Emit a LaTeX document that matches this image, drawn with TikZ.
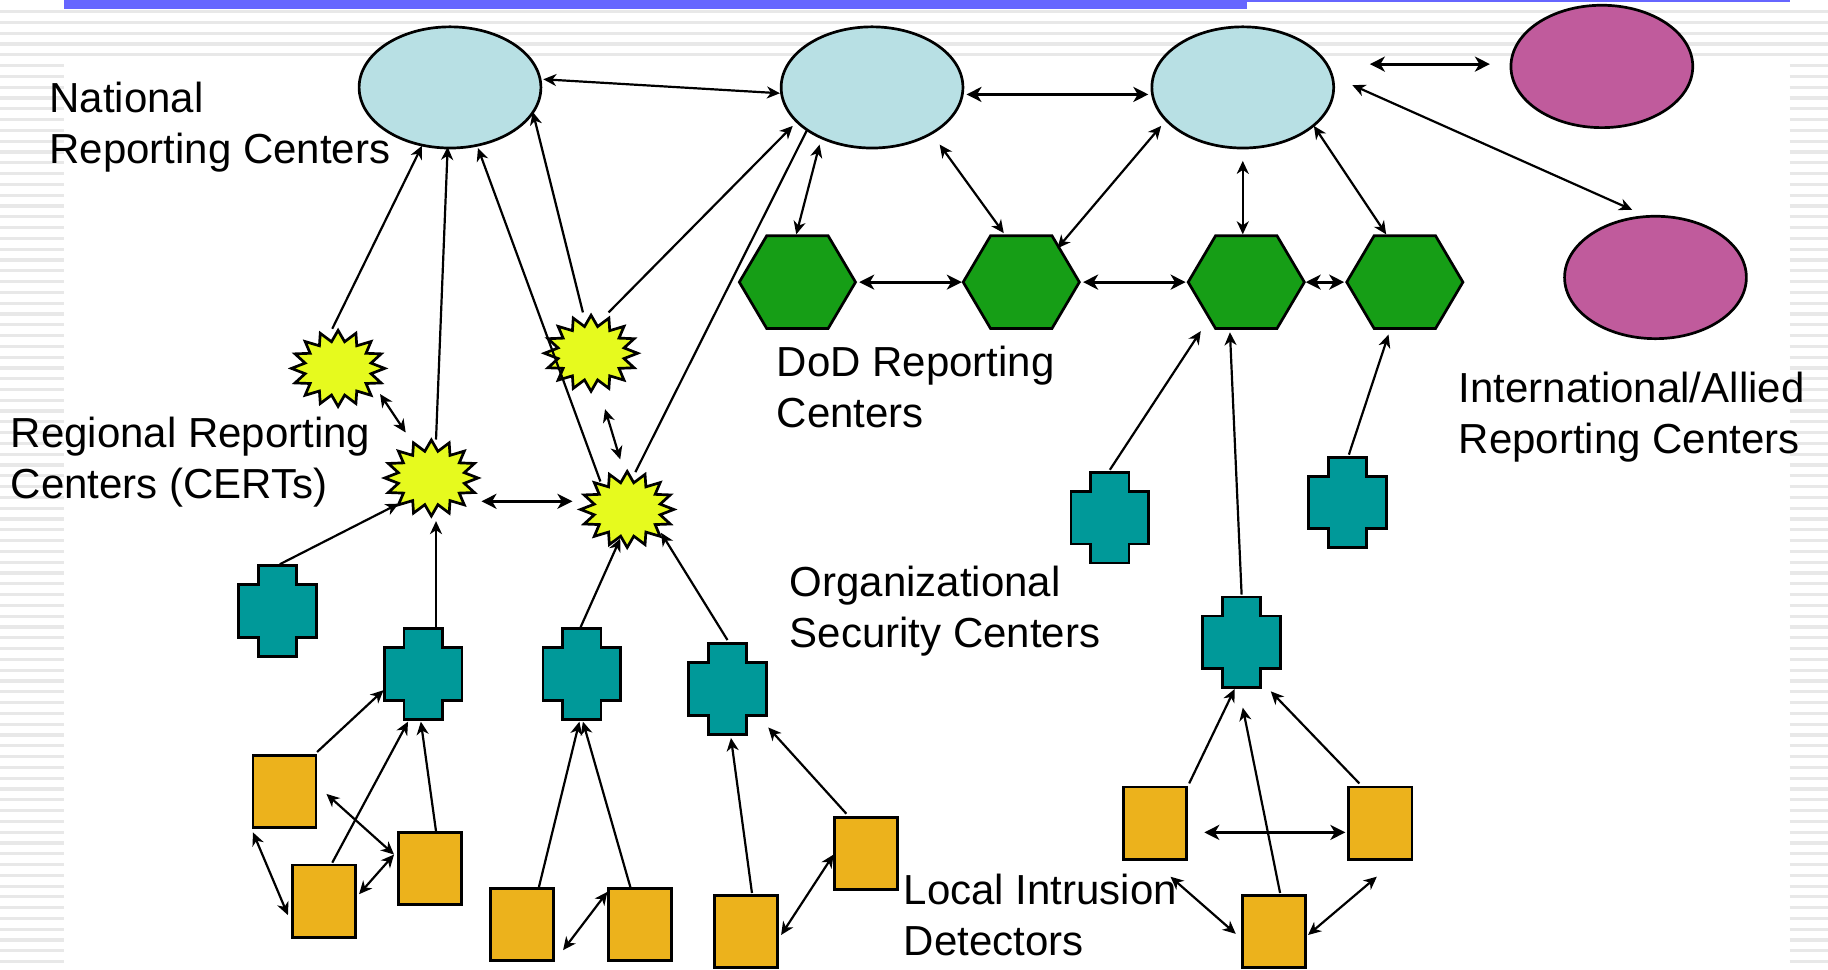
\documentclass[tikz,border=0pt]{standalone}
\usepackage{fontspec}
\setmainfont{Liberation Sans}
\usetikzlibrary{arrows.meta,shapes.geometric,calc}
\definecolor{ncblue}{RGB}{184,224,228}
\definecolor{intl}{RGB}{192,91,156}
\definecolor{dodgreen}{RGB}{22,158,22}
\definecolor{certyel}{RGB}{230,250,30}
\definecolor{orgteal}{RGB}{0,153,153}
\definecolor{idsorg}{RGB}{236,178,28}
\definecolor{barblue}{RGB}{102,102,255}
\definecolor{stripegray}{RGB}{232,232,232}
\tikzset{
  outl/.style={draw=black,line width=1.35pt,line join=miter},
  natnode/.style={ellipse,outl,fill=ncblue,minimum width=90.9pt,minimum height=60.6pt,inner sep=0pt},
  intlnode/.style={ellipse,outl,fill=intl,minimum width=90.9pt,minimum height=61.2pt,inner sep=0pt},
  hexbox/.style={rectangle,minimum width=57.7pt,minimum height=46pt,inner sep=0pt},
  hexdraw/.style={outl,fill=dodgreen},
  starbox/.style={ellipse,minimum width=46pt,minimum height=37.3pt,inner sep=0pt},
  stardraw/.style={outl,fill=certyel},
  crossbox/.style={rectangle,minimum width=38.5pt,minimum height=44.9pt,inner sep=0pt},
  crossdraw/.style={outl,fill=orgteal},
  idsnode/.style={rectangle,outl,fill=idsorg,minimum width=31.5pt,minimum height=36.1pt,inner sep=0pt},
  lbl/.style={anchor=base west,align=left,inner sep=0pt,font=\fontsize{21pt}{25.5pt}\selectfont},
  arr/.style={line width=1.1pt,-{Stealth[length=6.5pt,width=6pt,inset=2pt]}},
  dbl/.style={line width=1.1pt,{Stealth[length=6.5pt,width=6pt,inset=2pt]}-{Stealth[length=6.5pt,width=6pt,inset=2pt]}},
  dblthick/.style={line width=1.6pt,{Stealth[length=7.5pt,width=7.5pt,inset=2.2pt]}-{Stealth[length=7.5pt,width=7.5pt,inset=2.2pt]}},
  plainline/.style={line width=1.1pt},
  stripe/.style={draw=stripegray,line width=1.6pt}
}
\newcommand{\hexat}[3]{%
  \node[hexbox] (#1) at (#2,#3) {};
  \draw[hexdraw] (#1.west) -- ([xshift=13.7pt]#1.north west) -- ([xshift=-13.7pt]#1.north east)
    -- (#1.east) -- ([xshift=-13.7pt]#1.south east) -- ([xshift=13.7pt]#1.south west) -- cycle;}
\newcommand{\crossat}[3]{%
  \node[crossbox] (#1) at (#2,#3) {};
  \draw[crossdraw] ([xshift=9.9pt]#1.north west) -- ([xshift=-9.9pt]#1.north east)
    -- ([xshift=-9.9pt,yshift=-9.5pt]#1.north east) -- ([yshift=-9.5pt]#1.north east)
    -- ([yshift=9.5pt]#1.south east) -- ([xshift=-9.9pt,yshift=9.5pt]#1.south east)
    -- ([xshift=-9.9pt]#1.south east) -- ([xshift=9.9pt]#1.south west)
    -- ([xshift=9.9pt,yshift=9.5pt]#1.south west) -- ([yshift=9.5pt]#1.south west)
    -- ([yshift=-9.5pt]#1.north west) -- ([xshift=9.9pt,yshift=-9.5pt]#1.north west) -- cycle;}
\newcommand{\starat}[3]{%
  \node[starbox] (#1) at (#2,#3) {};
  \draw[stardraw] ([shift={(90:23.3pt and 19pt)}]#1.center)
    \foreach \k in {1,...,16}{ -- ([shift={(90+\k*22.5-11.25:16.8pt and 13.6pt)}]#1.center)
      -- ([shift={(90+\k*22.5:23.3pt and 19pt)}]#1.center)} -- cycle;}
\begin{document}
\begin{tikzpicture}[x=0.5829pt,y=-0.5829pt]
\useasboundingbox (0,0) rectangle (1568,832);
% background template
\foreach \k in {0,...,4} {\draw[stripe] (0,{10+9.26*\k}) -- (1568,{10+9.26*\k});}
\foreach \k in {5,...,89} {
  \draw[stripe] (0,{10+9.26*\k}) -- (55,{10+9.26*\k});
  \draw[stripe] (1535,{10+9.26*\k}) -- (1568,{10+9.26*\k});}
\fill[barblue] (55,0) rectangle (1070,8);
\fill[barblue] (1070,0) rectangle (1535,1.6);

% national reporting centers
\node[natnode] (e1) at (386,75) {};
\node[natnode] (e2) at (748,75) {};
\node[natnode] (e3) at (1066,75) {};
% international
\node[intlnode] (m1) at (1374,57) {};
\node[intlnode] (m2) at (1420,238) {};
% DoD hexagons
\hexat{h1}{684}{242}
\hexat{h2}{876}{242}
\hexat{h3}{1069}{242}
\hexat{h4}{1205}{242}
% regional stars
\starat{s1}{290}{316}
\starat{s2}{507}{303}
\starat{s3}{370}{410}
\starat{s4}{538}{437}
% organizational crosses
\crossat{c1}{238}{524}
\crossat{c2}{363}{578}
\crossat{c3}{499}{578}
\crossat{c4}{624}{591}
\crossat{c5}{952}{444}
\crossat{c6}{1156}{431}
\crossat{c7}{1065}{551}
% local intrusion detectors
\node[idsnode] (r1) at (244,679) {};
\node[idsnode] (r2) at (278,773) {};
\node[idsnode] (r3) at (369,745) {};
\node[idsnode] (r4) at (448,793) {};
\node[idsnode] (r5) at (549,793) {};
\node[idsnode] (r6) at (640,799) {};
\node[idsnode] (r7) at (743,732) {};
\node[idsnode] (r8) at (991,706) {};
\node[idsnode] (r9) at (1184,706) {};
\node[idsnode] (r10) at (1093,799) {};

% labels (base anchor = baseline of the last line)
\node[lbl] (tnat) at (42,140) {National\\Reporting Centers};
\node[lbl] (treg) at (9,428) {Regional Reporting\\Centers (CERTs)};
\node[lbl] (tdod) at (666,367) {DoD Reporting\\Centers};
\node[lbl] (tint) at (1251,389) {International/Allied\\Reporting Centers};
\node[lbl] (torg) at (677,555) {Organizational\\Security Centers};
\node[lbl] (tloc) at (775,820) {Local Intrusion\\Detectors};

% connectors: national / international level
\draw[dbl] ([shift={(80,-7)}]e1.center) -- ([shift={(-79,5)}]e2.center);
\draw[dblthick] ([shift={(81,6)}]e2.center) -- ([shift={(-81,6)}]e3.center);
\draw[dblthick] ([shift={(109,-20)}]e3.center) -- ([shift={(-96,-2)}]m1.center);
\draw[dbl] ([shift={(94,-2)}]e3.center) -- ([shift={(-20,-58)}]m2.center);
% regional to national
\draw[arr] ([shift={(-5,-34)}]s1.center) -- ([shift={(-24,50)}]e1.center);
\draw[arr] ([shift={(4,-33)}]s3.center) -- ([shift={(-2,51)}]e1.center);
\draw[arr] ([shift={(-23,-24)}]s4.center) -- ([shift={(24,52)}]e1.center);
\draw[arr] ([shift={(-7,-35)}]s2.center) -- ([shift={(71,21)}]e1.center);
\draw[arr] ([shift={(15,-35)}]s2.center) -- ([shift={(-68,33)}]e2.center);
\draw[plainline] ([shift={(7,-32)}]s4.center) -- ([shift={(-56,37)}]e2.center);
% national to DoD
\draw[dbl] ([shift={(-45,49)}]e2.center) -- ([shift={(-1,-41)}]h1.center);
\draw[dbl] ([shift={(58,49)}]e2.center) -- ([shift={(-15,-42)}]h2.center);
\draw[dbl] ([shift={(-70,33)}]e3.center) -- ([shift={(31,-29)}]h2.center);
\draw[dbl] ([shift={(0,63)}]e3.center) -- ([shift={(-3,-41)}]h3.center);
\draw[dbl] ([shift={(61,33)}]e3.center) -- ([shift={(-16,-41)}]h4.center);
% DoD row
\draw[dblthick] ([shift={(53,0)}]h1.center) -- ([shift={(-51,0)}]h2.center);
\draw[dblthick] ([shift={(53,0)}]h2.center) -- ([shift={(-52,0)}]h3.center);
\draw[dblthick] ([shift={(51,0)}]h3.center) -- ([shift={(-52,0)}]h4.center);
% organizational to DoD
\draw[arr] ([shift={(0,-41)}]c5.center) -- ([shift={(-39,42)}]h3.center);
\draw[arr] ([shift={(0,-41)}]c7.center) -- ([shift={(-14,43)}]h3.center);
\draw[arr] ([shift={(1,-41)}]c6.center) -- ([shift={(-14,45)}]h4.center);
% regional mesh
\draw[dbl] ([shift={(36,22)}]s1.center) -- ([shift={(-22,-39)}]s3.center);
\draw[dbl] ([shift={(12,48)}]s2.center) -- ([shift={(-6,-43)}]s4.center);
\draw[dblthick] ([shift={(43,20)}]s3.center) -- ([shift={(-47,-7)}]s4.center);
% organizational to regional
\draw[arr] ([shift={(2,-40)}]c1.center) -- ([shift={(-28,22)}]s3.center);
\draw[arr] ([shift={(11,-39)}]c2.center) -- ([shift={(4,37)}]s3.center);
\draw[arr] ([shift={(-1,-40)}]c3.center) -- ([shift={(-6,25)}]s4.center);
\draw[arr] ([shift={(0,-42)}]c4.center) -- ([shift={(29,20)}]s4.center);
% detectors to organizational
\draw[arr] ([shift={(28,-34)}]r1.center) -- ([shift={(-34,14)}]c2.center);
\draw[arr] ([shift={(7,-33)}]r2.center) -- ([shift={(-13,41)}]c2.center);
\draw[arr] ([shift={(5,-32)}]r3.center) -- ([shift={(-2,41)}]c2.center);
\draw[dbl] ([shift={(36,2)}]r1.center) -- ([shift={(-31,-12)}]r3.center);
\draw[dbl] ([shift={(-27,35)}]r1.center) -- ([shift={(-31,12)}]r2.center);
\draw[dbl] ([shift={(30,-6)}]r2.center) -- ([shift={(-31,-12)}]r3.center);
\draw[arr] ([shift={(14,-31)}]r4.center) -- ([shift={(-2,41)}]c3.center);
\draw[arr] ([shift={(-8,-31)}]r5.center) -- ([shift={(1,41)}]c3.center);
\draw[dbl] ([shift={(35,22)}]r4.center) -- ([shift={(-28,-28)}]r5.center);
\draw[arr] ([shift={(5,-33)}]r6.center) -- ([shift={(3,42)}]c4.center);
\draw[arr] ([shift={(-17,-34)}]r7.center) -- ([shift={(35,33)}]c4.center);
\draw[dbl] ([shift={(30,3)}]r6.center) -- ([shift={(-28,1)}]r7.center);
\draw[arr] ([shift={(29,-34)}]r8.center) -- ([shift={(-6,40)}]c7.center);
\draw[arr] ([shift={(5,-33)}]r10.center) -- ([shift={(1,56)}]c7.center);
\draw[arr] ([shift={(-18,-34)}]r9.center) -- ([shift={(25,42)}]c7.center);
\draw[dblthick] ([shift={(42,8)}]r8.center) -- ([shift={(-30,8)}]r9.center);
\draw[dbl] ([shift={(13,46)}]r8.center) -- ([shift={(-33,2)}]r10.center);
\draw[dbl] ([shift={(29,3)}]r10.center) -- ([shift={(-3,46)}]r9.center);
\end{tikzpicture}
\end{document}
